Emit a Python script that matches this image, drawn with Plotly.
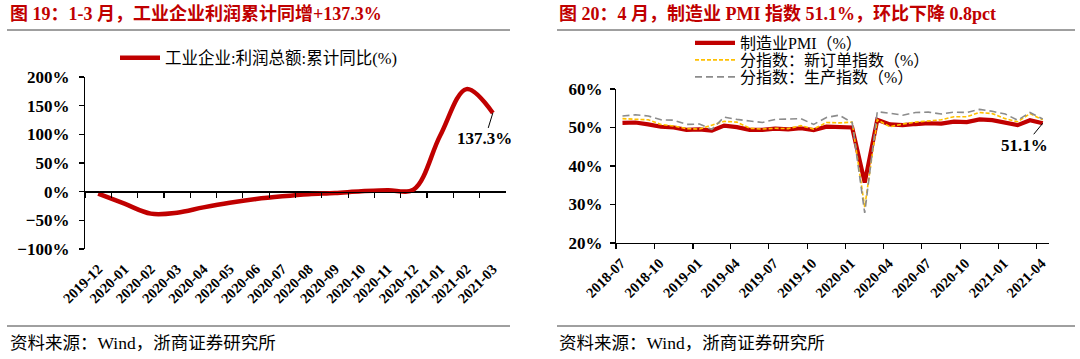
import plotly.graph_objects as go
import pandas as pd

W, H = 1080, 359

# ---------------- data ----------------
profit_months = ["2019-12", "2020-01", "2020-02", "2020-03", "2020-04", "2020-05",
                 "2020-06", "2020-07", "2020-08", "2020-09", "2020-10", "2020-11",
                 "2020-12", "2021-01", "2021-02", "2021-03"]
profit_yoy = [-3.3, -21.0, -38.3, -36.7, -27.4, -19.3, -12.8, -8.1, -4.4, -2.4,
              0.7, 2.4, 4.1, 98.0, 178.9, 137.3]

pmi_months = list(pd.date_range("2018-07-01", "2021-04-01", freq="MS").strftime("%Y-%m"))
pmi = [51.2, 51.3, 50.8, 50.2, 50.0, 49.4,
       49.5, 49.2, 50.5, 50.1, 49.4, 49.4, 49.7, 49.5, 49.8, 49.3, 50.2, 50.2,
       50.0, 35.7, 52.0, 50.8, 50.6, 50.9, 51.1, 51.0, 51.5, 51.4, 52.1, 51.9,
       51.3, 50.6, 51.9, 51.1]
new_orders = [52.3, 52.2, 52.0, 50.8, 50.4, 49.7,
              49.6, 50.6, 51.6, 51.4, 49.8, 49.6, 49.8, 49.7, 50.5, 49.6, 51.3, 51.2,
              51.4, 29.3, 52.0, 50.2, 50.9, 51.4, 51.7, 52.0, 52.8, 52.8, 53.9, 53.6,
              52.3, 51.5, 53.6, 52.0]
production = [53.0, 53.3, 53.0, 52.0, 51.9, 50.8,
              50.9, 49.5, 52.7, 52.1, 51.7, 51.3, 52.1, 52.3, 52.3, 50.8, 52.6, 53.2,
              51.3, 27.8, 54.1, 53.7, 53.2, 53.9, 54.0, 53.5, 54.0, 53.9, 54.7, 54.2,
              53.5, 51.9, 53.9, 52.2]

left_title = "图 19：1-3 月，工业企业利润累计同增+137.3%"
right_title = "图 20：4 月，制造业 PMI 指数 51.1%，环比下降 0.8pct"
source_text = "资料来源：Wind，浙商证券研究所"
left_name = "工业企业:利润总额:累计同比(%)"
right_names = ["制造业PMI（%）", "分指数：新订单指数（%）", "分指数：生产指数（%）"]

# ---------------- helpers ----------------
def px(x):
    return x / W

def py(y):
    return 1 - y / H

SERIF = "Liberation Serif, Noto Sans CJK SC"
RED = "#C00000"
TITLE_RED = "#C00000"

L_X0, L_X1 = 85, 506
L_Y0, L_Y1 = 77, 249   # top(200%) / bottom(-100%)
R_X0, R_X1 = 616, 1049
R_Y0, R_Y1 = 89, 243
y_lo, y_hi = -100, 200
zero_frac = (0 - y_lo) / (y_hi - y_lo)
zero_pos = py(L_Y1) + zero_frac * (py(L_Y0) - py(L_Y1))
zero_px = L_Y1 - zero_frac * (L_Y1 - L_Y0)
n = len(profit_months)
TICKLEN = 5
label_standoff = int(round((L_Y1 - zero_px) + 10 - TICKLEN))  # labels below plot bottom

fig = go.Figure()

# Left chart
fig.add_trace(go.Scatter(
    x=profit_months, y=profit_yoy, name=left_name, mode="lines",
    line=dict(color=RED, width=4.5, shape="spline", smoothing=1.0),
    xaxis="x", yaxis="y", legend="legend", hoverinfo="skip"))

# Right chart
right_series = [pmi, new_orders, production]
right_lines = [dict(color=RED, width=4.2),
               dict(color="#FFC000", width=1.6, dash="4px,2px"),
               dict(color="#8C8C8C", width=1.6, dash="7px,4px")]
for i, (vals, nm, ln) in enumerate(zip(right_series, right_names, right_lines)):
    fig.add_trace(go.Scatter(
        x=pmi_months, y=vals, name=nm, mode="lines", line=ln,
        xperiod="M1", xperiodalignment="middle",
        xaxis="x2", yaxis="y2", legend="legend%d" % (i + 2), hoverinfo="skip"))

tickfont = dict(family=SERIF, size=17, color="black", weight="bold")
xtickfont = dict(family=SERIF, size=14.5, color="black", weight="bold")

axis_line = dict(showline=True, linecolor="black", linewidth=1.2, ticks="outside",
                 ticklen=TICKLEN, tickcolor="black", tickwidth=1.2, showgrid=False,
                 zeroline=False, automargin=False)

legend_common = dict(xanchor="left", yanchor="middle", bgcolor="rgba(0,0,0,0)",
                     itemwidth=40)

fig.update_layout(
    width=W, height=H, template="none",
    paper_bgcolor="white", plot_bgcolor="rgba(0,0,0,0)",
    margin=dict(l=0, r=0, t=0, b=0),
    # category axis drawn along 0%, labels pushed down below the plot
    xaxis=dict(domain=[px(L_X0), px(L_X1)], anchor="free", position=zero_pos,
               type="category", range=[-0.5, n - 0.5], tickson="boundaries",
               tickangle=-45, tickfont=xtickfont, ticklabelstandoff=label_standoff,
               layer="above traces", **axis_line),
    yaxis=dict(domain=[py(L_Y1), py(L_Y0)], anchor="x", range=[y_lo, y_hi],
               dtick=50, ticksuffix="%", tickfont=tickfont, ticklabelstandoff=6,
               showline=True, linecolor="black", linewidth=1.2, ticks="outside",
               ticklen=TICKLEN, tickcolor="black", tickwidth=1.2, showgrid=False,
               zeroline=True, zerolinecolor="black", zerolinewidth=1.2,
               automargin=False, layer="above traces"),
    xaxis2=dict(domain=[px(R_X0), px(R_X1)], anchor="y2", type="date",
                range=["2018-07-01", "2021-05-01"], tick0="2018-07-01", dtick="M3",
                tickformat="%Y-%m", tickangle=-45, tickfont=xtickfont,
                ticklabelshift=5, **axis_line),
    yaxis2=dict(domain=[py(R_Y1), py(R_Y0)], anchor="x2", range=[20, 60],
                dtick=10, ticksuffix="%", tickfont=tickfont, ticklabelstandoff=4,
                **axis_line),
    legend=dict(x=px(115), y=py(58), font=dict(family=SERIF, size=16.5, color="black"),
                **legend_common),
    legend2=dict(x=px(690), y=py(43), font=dict(family=SERIF, size=16, color="black"),
                 **legend_common),
    legend3=dict(x=px(690), y=py(60), font=dict(family=SERIF, size=16, color="black"),
                 **legend_common),
    legend4=dict(x=px(690), y=py(77), font=dict(family=SERIF, size=16, color="black"),
                 **legend_common),
    showlegend=True,
)

# titles and sources
for x0, txt in [(8, left_title), (557, right_title)]:
    fig.add_annotation(x=px(x0), y=py(14), xref="paper", yref="paper",
                       text=txt, showarrow=False, xanchor="left", yanchor="middle",
                       font=dict(family=SERIF, size=18, color=TITLE_RED, weight="bold"))
    fig.add_annotation(x=px(x0), y=py(343), xref="paper", yref="paper",
                       text=source_text, showarrow=False, xanchor="left", yanchor="middle",
                       font=dict(family=SERIF, size=17.5, color="black"))

# separator lines
for xa, xb in [(7, 510), (557, 1075)]:
    for yy in (30, 326):
        fig.add_shape(type="line", xref="paper", yref="paper",
                      x0=px(xa), x1=px(xb), y0=py(yy), y1=py(yy),
                      line=dict(color="#404040", width=1))

# value labels
fig.add_annotation(x=profit_months[-1], y=profit_yoy[-1], xref="x", yref="y",
                   text="137.3%", showarrow=True, arrowhead=0, arrowwidth=1,
                   arrowcolor="black", ax=-8, ay=26,
                   font=dict(family=SERIF, size=17, color="black", weight="bold"))
fig.add_annotation(x=pmi_months[-1] + "-16", y=pmi[-1], xref="x2", yref="y2",
                   text="51.1%", showarrow=True, arrowhead=0, arrowwidth=1,
                   arrowcolor="black", ax=-18, ay=22,
                   font=dict(family=SERIF, size=17, color="black", weight="bold"))

fig.write_html("out.html",
               config={"displayModeBar": False, "staticPlot": True},
               post_script="document.body.style.margin='0';"
                           "document.body.style.overflow='hidden';")
